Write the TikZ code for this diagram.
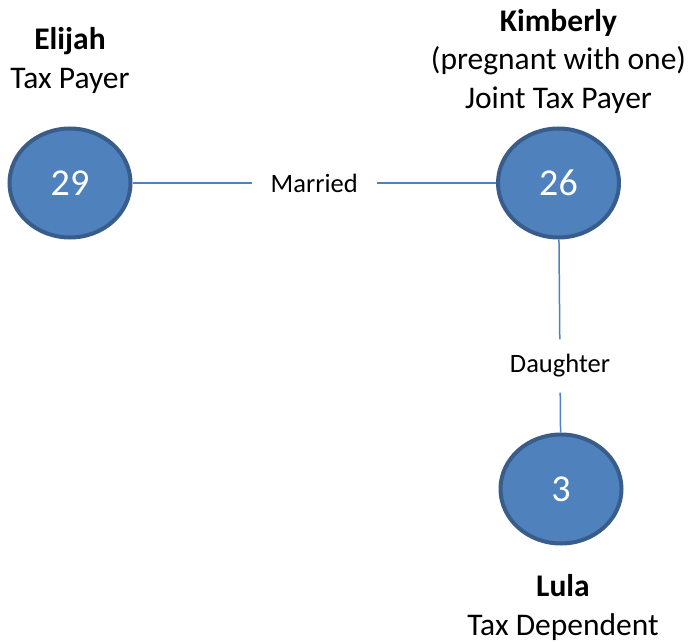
\documentclass[tikz,border=0pt]{standalone}
\usepackage{fontspec}
\setmainfont{Carlito}
\usetikzlibrary{calc,positioning,shapes.geometric}

\definecolor{nodeblue}{HTML}{4F81BD}
\definecolor{nodeedge}{HTML}{385D8A}

\begin{document}
\begin{tikzpicture}[
    x = 1pt, y = 1pt,
    person/.style = {
      ellipse, line width = 4pt,
      draw = nodeedge, fill = nodeblue,
      minimum width = 121pt, minimum height = 109pt,
      text = white, font = \fontsize{38pt}{44pt}\selectfont,
    },
    caption/.style = {
      align = center, inner sep = 0pt,
      font = \fontsize{31.5pt}{38.5pt}\selectfont,
    },
    relation/.style = {
      inner xsep = 19pt, inner ysep = 15pt,
      font = \fontsize{26.5pt}{31pt}\selectfont,
    },
    link/.style = {draw = nodeblue, line width = 1.5pt},
  ]
        \useasboundingbox (0,0) rectangle (691,-642);

        \node[person] (elijah) at (70,-183) {29};
        \node[person] (kimberly) at (558.5,-183) {26};
        \node[person] (lula) at (561,-489) {3};

        \node[caption, above = 33pt of elijah] (elijahlbl)
          {\textbf{Elijah}\\Tax Payer};
        \node[caption, above = 13pt of kimberly] (kimberlylbl)
          {\textbf{Kimberly}\\(pregnant with one)\\Joint Tax Payer};
        \node[caption, below = 29pt of lula, xshift = 2pt] (lulalbl)
          {\textbf{Lula}\\Tax Dependent};

        \node[relation] (married) at ($(elijah)!0.5!(kimberly)$) {Married};
        \node[relation] (daughter) at (560,-366) {Daughter};

        \draw[link] (elijah) -- (married) -- (kimberly);
        \draw[link] (kimberly) -- (daughter) -- (lula);
      \end{tikzpicture}
\end{document}
